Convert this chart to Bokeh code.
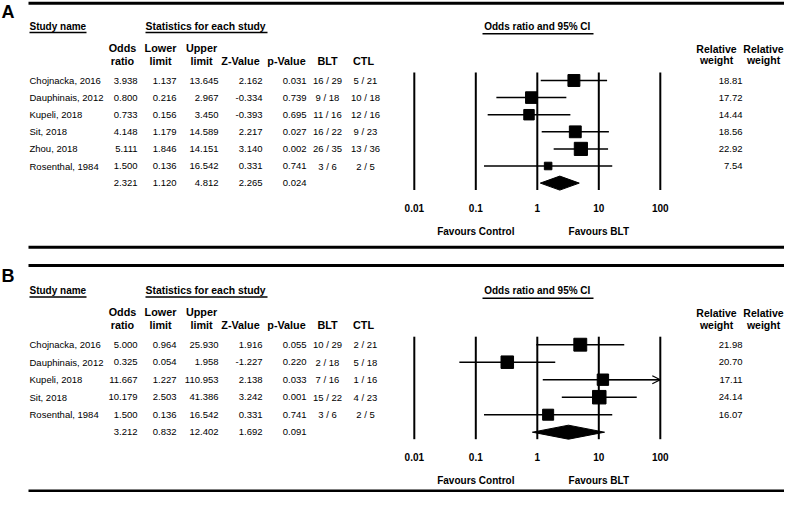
import math
from bokeh.plotting import figure
from bokeh.models import Range1d, LogScale, Arrow, OpenHead
from bokeh.core.properties import value
from bokeh.embed import file_html
from bokeh.resources import INLINE

# ---------------- data ----------------
studies_A = ["Chojnacka, 2016", "Dauphinais, 2012", "Kupeli, 2018", "Sit, 2018", "Zhou, 2018", "Rosenthal, 1984"]
or_A = [3.938, 0.800, 0.733, 4.148, 5.111, 1.500]
lo_A = [1.137, 0.216, 0.156, 1.179, 1.846, 0.136]
hi_A = [13.645, 2.967, 3.450, 14.589, 14.151, 16.542]
z_A = [2.162, -0.334, -0.393, 2.217, 3.140, 0.331]
p_A = [0.031, 0.739, 0.695, 0.027, 0.002, 0.741]
blt_A = ["16 / 29", "9 / 18", "11 / 16", "16 / 22", "26 / 35", "3 / 6"]
ctl_A = ["5 / 21", "10 / 18", "12 / 16", "9 / 23", "13 / 36", "2 / 5"]
w_A = [18.81, 17.72, 14.44, 18.56, 22.92, 7.54]
summary_A = [2.321, 1.120, 4.812, 2.265, 0.024]

studies_B = ["Chojnacka, 2016", "Dauphinais, 2012", "Kupeli, 2018", "Sit, 2018", "Rosenthal, 1984"]
or_B = [5.000, 0.325, 11.667, 10.179, 1.500]
lo_B = [0.964, 0.054, 1.227, 2.503, 0.136]
hi_B = [25.930, 1.958, 110.953, 41.386, 16.542]
z_B = [1.916, -1.227, 2.138, 3.242, 0.331]
p_B = [0.055, 0.220, 0.033, 0.001, 0.741]
blt_B = ["10 / 29", "2 / 18", "7 / 16", "15 / 22", "3 / 6"]
ctl_B = ["2 / 21", "5 / 18", "1 / 16", "4 / 23", "2 / 5"]
w_B = [21.98, 20.70, 17.11, 24.14, 16.07]
summary_B = [3.212, 0.832, 12.402, 1.692, 0.091]

tick_vals = [0.01, 0.1, 1, 10, 100]
tick_labels = ["0.01", "0.1", "1", "10", "100"]
favours_at = [0.1, 10]
favours_labels = ["Favours Control", "Favours BLT"]

col_headers_1 = ["Odds", "Lower", "Upper", "", "", "", ""]
col_headers_2 = ["ratio", "limit", "limit", "Z-Value", "p-Value", "BLT", "CTL"]

# ---------------- figure ----------------
FONT = value("Liberation Sans")
W, H = 784, 492
ONE_X, DEC = 536.8, 61.5
log_lo = -ONE_X / DEC
log_hi = log_lo + W / DEC

p = figure(width=W, height=H, x_range=Range1d(0, W), y_range=Range1d(H, 0),
           x_axis_type=None, y_axis_type=None, output_backend="svg", toolbar_location=None,
           min_border=0, min_border_left=0, min_border_right=0, min_border_top=0, min_border_bottom=0)
p.extra_x_ranges = {"or": Range1d(10 ** log_lo, 10 ** log_hi)}
p.extra_x_scales = {"or": LogScale()}
p.grid.visible = False
p.outline_line_color = None


def txt(x, y, t, size="9.5px", align="left", bold=False, rng="default"):
    p.text(x=x, y=y, text=t, text_font=FONT, text_font_size=size, text_align=align,
           text_baseline="middle", text_color="black",
           text_font_style="bold" if bold else "normal", x_range_name=rng)


def fmt(v):
    return [f"{x:.3f}" for x in v]


def panel(letter, off, top_y, bot_y, row0, step, fav_gap, names, o, lo, hi, z, pv, blt, ctl, w, summ):
    n = len(names)
    ys = [row0 + i * step for i in range(n)]
    ysum = row0 + n * step
    # frame lines
    p.segment(x0=[28, 28], x1=[W, W], y0=[top_y, bot_y], y1=[top_y, bot_y],
              line_color="black", line_width=3)
    txt([1], [off + 11], [letter], size="18px", bold=True)
    # headers
    txt([29], [off + 25.7], ["Study name"], size="10px", bold=True)
    txt([145], [off + 25.7], ["Statistics for each study"], size="10.4px", bold=True)
    p.segment(x0=[29, 145, 482], x1=[86, 267, 593], y0=[off + 32] * 2 + [off + 33.3],
              y1=[off + 32] * 2 + [off + 33.3], line_color="black", line_width=1.5)
    txt([1], [off + 25.7], ["Odds ratio and 95% CI"], size="10px", align="center", bold=True, rng="or")
    hx = [122, 160, 201, 240, 286, 327, 363]
    txt(hx, [off + 47] * 7, col_headers_1, size="10.8px", align="center", bold=True)
    txt(hx, [off + 60] * 7, col_headers_2, size="10.8px", align="center", bold=True)
    txt([716, 763], [off + 48] * 2, ["Relative", "Relative"], size="10.5px", align="center", bold=True)
    txt([716, 763], [off + 59.5] * 2, ["weight", "weight"], size="10.5px", align="center", bold=True)
    # table rows
    txt([29] * n, ys, names)
    txt([137] * (n + 1), ys + [ysum], fmt(o) + [f"{summ[0]:.3f}"], align="right")
    txt([176] * (n + 1), ys + [ysum], fmt(lo) + [f"{summ[1]:.3f}"], align="right")
    txt([218] * (n + 1), ys + [ysum], fmt(hi) + [f"{summ[2]:.3f}"], align="right")
    txt([262] * (n + 1), ys + [ysum], fmt(z) + [f"{summ[3]:.3f}"], align="right")
    txt([306] * (n + 1), ys + [ysum], fmt(pv) + [f"{summ[4]:.3f}"], align="right")
    txt([327] * n, ys, blt, align="center")
    txt([365] * n, ys, ctl, align="center")
    txt([742] * n, ys, [f"{v:.2f}" for v in w], align="right")
    # reference lines
    p.segment(x0=tick_vals, x1=tick_vals, y0=[row0 - 8] * 5, y1=[ysum + 7] * 5,
              line_color="black", line_width=2, x_range_name="or")
    # whiskers
    hi_c = [min(h, 100) for h in hi]
    p.segment(x0=lo, x1=hi_c, y0=ys, y1=ys, line_color="black", line_width=1.5, x_range_name="or")
    for xi, h, yy in zip(o, hi, ys):
        if h > 100:
            p.add_layout(Arrow(x_start=xi, y_start=yy, x_end=100, y_end=yy, line_width=1.2,
                               end=OpenHead(size=8, line_width=1.2), x_range_name="or"))
    p.scatter(x=o, y=ys, marker="square", size=[2.75 * math.sqrt(v) for v in w],
              fill_color="black", line_color="black", x_range_name="or")
    # summary diamond
    p.patch(x=[summ[1], summ[0], summ[2], summ[0]], y=[ysum, ysum - 7, ysum, ysum + 7],
            fill_color="black", line_color="black", x_range_name="or")
    # tick labels and favours
    txt(tick_vals, [ysum + 24.5] * 5, tick_labels, size="10px", align="center", bold=True, rng="or")
    txt(favours_at, [ysum + fav_gap] * 2, favours_labels, size="10px", align="center", bold=True, rng="or")


panel("A", 0, 2.7, 246.7, 80, 17.1, 48.3,
      studies_A, or_A, lo_A, hi_A, z_A, p_A, blt_A, ctl_A, w_A, summary_A)
panel("B", 264.5, 265, 490.5, 344.2, 17.5, 48.3,
      studies_B, or_B, lo_B, hi_B, z_B, p_B, blt_B, ctl_B, w_B, summary_B)

open("out.html", "w").write(file_html(p, INLINE))
